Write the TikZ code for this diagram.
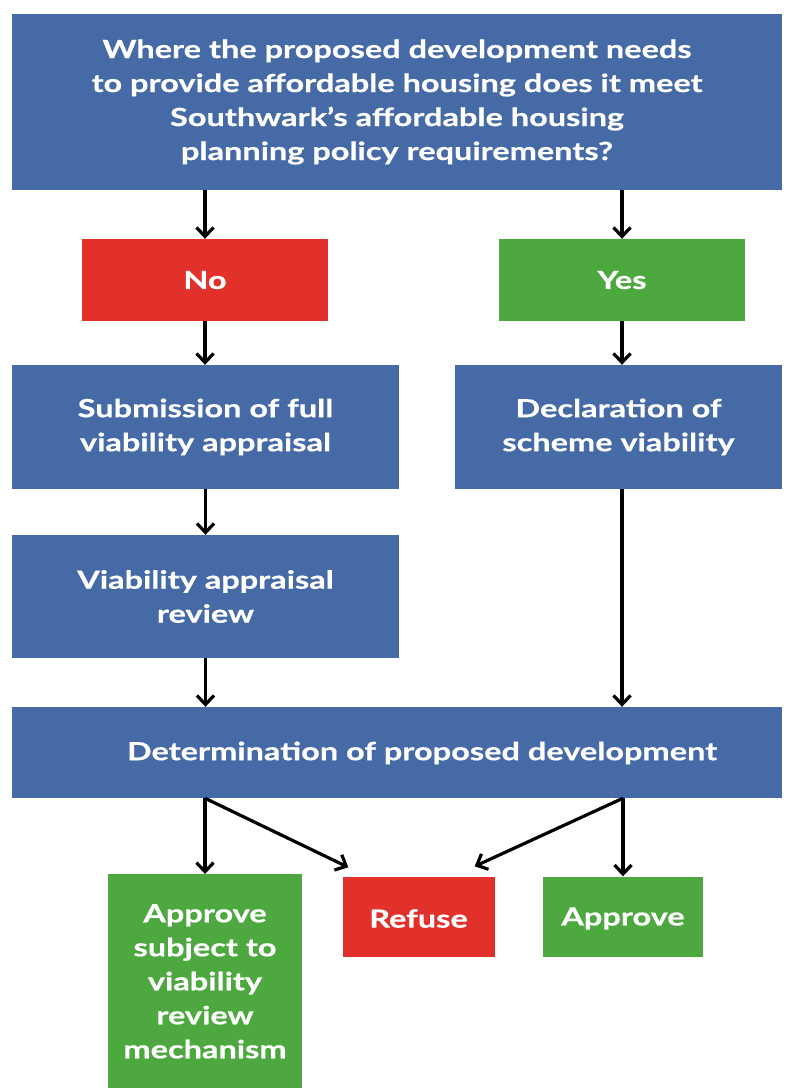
\documentclass[tikz,border=0pt]{standalone}
\usepackage{fontspec}
\setmainfont{Lato}[BoldFeatures={FakeStretch=1.3, FakeBold=0.6}]
\usetikzlibrary{arrows.meta,calc}
\definecolor{myblue}{RGB}{69,106,165}
\definecolor{myred}{RGB}{226,49,43}
\definecolor{mygreen}{RGB}{77,169,63}
\begin{document}
\begin{tikzpicture}[x=1pt,y=-1pt,
  box/.style={draw=none, fill=myblue, text=white, font=\bfseries\fontsize{25}{34}\selectfont, align=center, inner sep=0pt},
  redbox/.style={box, fill=myred},
  greenbox/.style={box, fill=mygreen},
  arr/.style={-{Straight Barb[length=9pt,width=17pt,line width=3.2pt]}, line width=3.2pt, black}]
\useasboundingbox[fill=white] (0,0) rectangle (787,1088);
\node[box, minimum width=770pt, minimum height=176pt] (top) at (397,102)
  {Where the proposed development needs\\to provide affordable housing does it meet\\Southwark’s affordable housing\\planning policy requirements?};
\node[redbox, minimum width=246pt, minimum height=82pt] (no) at (205,280) {No};
\node[greenbox, minimum width=246pt, minimum height=82pt] (yes) at (622,280) {Yes};
\node[box, minimum width=387pt, minimum height=124pt] (sub) at (205.5,427) {Submission of full\\viability appraisal};
\node[box, minimum width=327pt, minimum height=124pt] (dec) at (618.5,427) {Declaration of\\scheme viability};
\node[box, minimum width=387pt, minimum height=123pt] (rev) at (205.5,596.5) {Viability appraisal\\review};
\node[box, minimum width=770pt, minimum height=91pt] (det) at (397,752.5) {};
\node[box, fill=none] (dettext) at (422,753) {Determination of proposed development};
\node[greenbox, minimum width=194pt, minimum height=214pt, anchor=north] (aps) at (205,874) {};
\node[greenbox, fill=none, anchor=north] (apstext) at (205,904) {Approve\\subject to\\viability\\review\\mechanism};
\node[redbox, minimum width=152pt, minimum height=80pt] (ref) at (418.5,916.5) {};
\node[redbox, fill=none] (reftext) at (418.5,918.5) {Refuse};
\node[greenbox, minimum width=160pt, minimum height=80pt] (app) at (623,916.5) {};
\node[greenbox, fill=none] (apptext) at (623,918.5) {Approve};
\coordinate (lt) at ($(ref.north west)+(6,-9)$);
\coordinate (rt) at ($(ref.north east)+(-20,-10)$);
\draw[arr] (top.south -| no) -- (no.north);
\draw[arr] (top.south -| yes) -- (yes.north);
\draw[arr] (no.south) -- (no.south |- sub.north);
\draw[arr] (yes.south) -- (yes.south |- dec.north);
\draw[arr] (sub.south) -- (rev.north);
\draw[arr] (yes.south |- dec.south) -- (yes.south |- det.north);
\draw[arr] (rev.south) -- (rev.south |- det.north);
\draw[arr] (det.south -| aps) -- (aps.north);
\draw[arr] (det.south -| aps) -- (lt);
\draw[arr] (det.south -| app) -- (rt);
\draw[arr] (det.south -| app) -- (app.north);
\end{tikzpicture}
\end{document}
